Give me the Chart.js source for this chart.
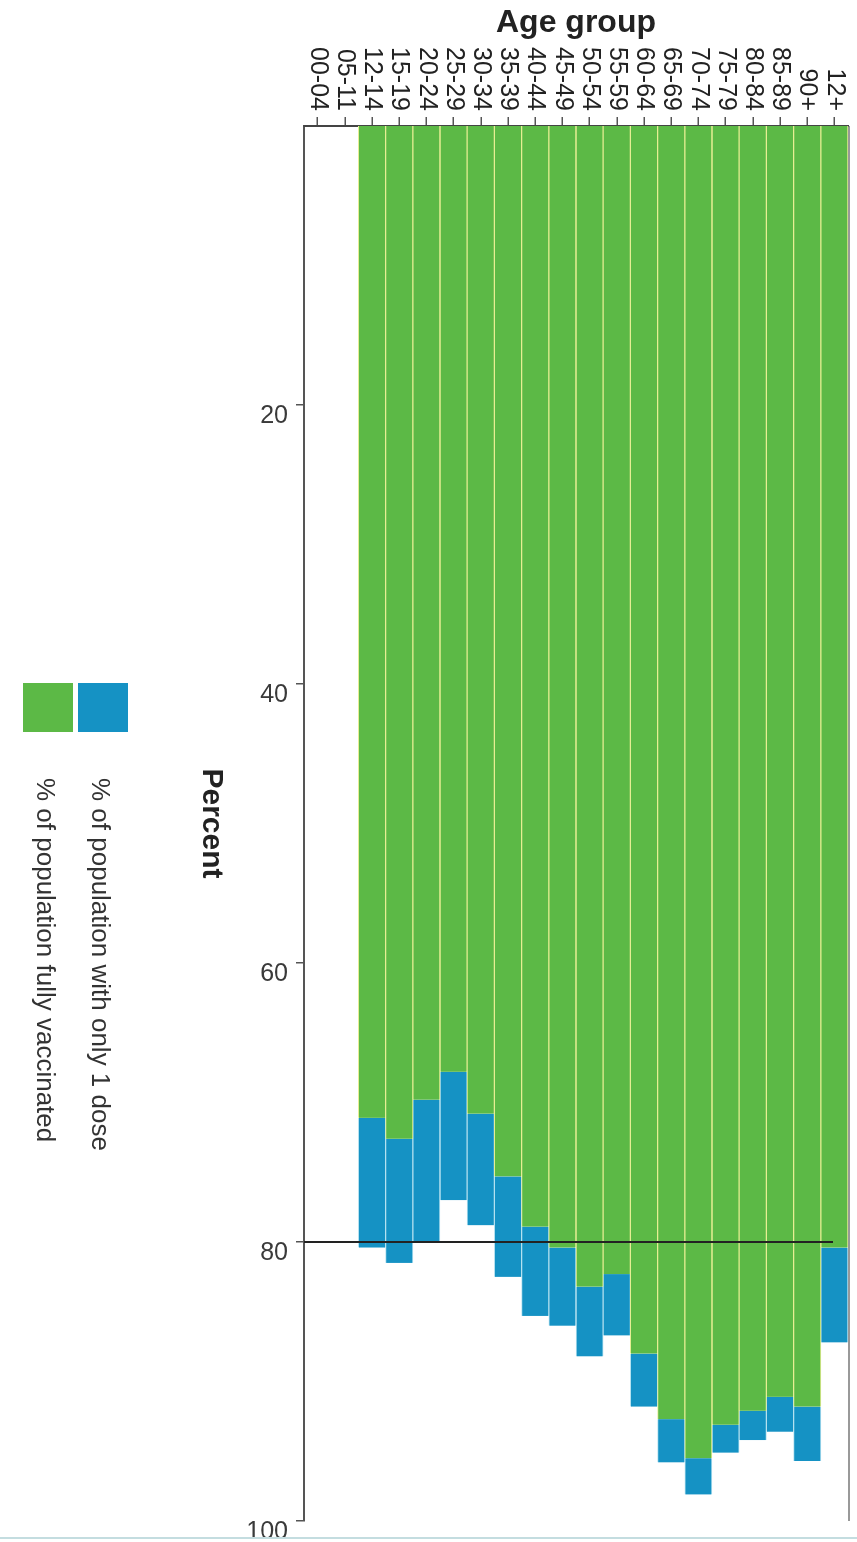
<!DOCTYPE html>
<html>
<head>
<meta charset="utf-8">
<script src="https://cdn.jsdelivr.net/npm/chart.js@4"></script>
<style>
  html, body { margin: 0; padding: 0; background: #fff; }
  body { width: 857px; height: 1542px; position: relative; overflow: hidden; }
  #wrap {
    position: absolute; left: 0; top: 0;
    width: 1542px; height: 857px;
    transform-origin: 0 0;
    transform: translateX(857px) rotate(90deg);
  }
  #edge { position: absolute; left: 0; top: 1537px; width: 857px; height: 2px; background: #c4dde0; }
</style>
</head>
<body>
<div id="wrap"><canvas id="myChart" width="1542" height="857"></canvas></div>
<div id="edge"></div>
<script>
// categories
const AGE_GROUPS = ['00-04', '05-11', '12-14', '15-19', '20-24', '25-29', '30-34', '35-39',
  '40-44', '45-49', '50-54', '55-59', '60-64', '65-69', '70-74', '75-79', '80-84', '85-89', '90+', '12+'];

// % of population fully vaccinated
const FULLY_VACCINATED = [null, null, 71.1, 72.6, 69.8, 67.8, 70.8, 75.3, 78.9, 80.4,
  83.2, 82.3, 88.0, 92.7, 95.5, 93.1, 92.1, 91.1, 91.8, 80.4];

// % of population with only 1 dose (stacked on top)
const ONE_DOSE_ONLY = [null, null, 9.3, 8.9, 10.2, 9.2, 8.0, 7.2, 6.4, 5.6,
  5.0, 4.4, 3.8, 3.1, 2.6, 2.0, 2.1, 2.5, 3.9, 6.8];

const PERCENT_TICKS = [20, 40, 60, 80, 100];
const REF_LINE = 80;

const FONT = '"Liberation Sans", Arial, Helvetica, sans-serif';

// 80% target line + far frame edge
const refLine = {
  id: 'refLine',
  afterDatasetsDraw(chart) {
    const { ctx, chartArea, scales: { x } } = chart;
    const px = x.getPixelForValue(REF_LINE);
    ctx.save();
    ctx.strokeStyle = '#222';
    ctx.lineWidth = 2;
    ctx.beginPath();
    ctx.moveTo(px, chartArea.bottom);
    ctx.lineTo(px, chartArea.top + 15);
    ctx.stroke();

    ctx.strokeStyle = '#777';
    ctx.lineWidth = 1.5;
    ctx.beginPath();
    ctx.moveTo(chartArea.left, chartArea.top - 1);
    ctx.lineTo(chartArea.right, chartArea.top - 1);
    ctx.stroke();
    ctx.restore();
  }
};

// legend stacked in two rows under the axis title
const stackedLegend = {
  id: 'stackedLegend',
  afterDraw(chart) {
    const { ctx, chartArea } = chart;
    ctx.save();
    ctx.font = '26px ' + FONT;
    ctx.textBaseline = 'middle';
    [1, 0].forEach((di, row) => {
      const ds = chart.data.datasets[di];
      const x = chartArea.left + 557;
      const y = chartArea.bottom + 176 + row * 55;
      ctx.fillStyle = ds.backgroundColor;
      ctx.fillRect(x, y, 49, 50);
      ctx.fillStyle = '#333';
      ctx.fillText(ds.label, x + 95, y + 29);
    });
    ctx.restore();
  }
};

new Chart(document.getElementById('myChart').getContext('2d'), {
  type: 'bar',
  data: {
    labels: AGE_GROUPS,
    datasets: [
      {
        label: '% of population fully vaccinated',
        data: FULLY_VACCINATED,
        backgroundColor: '#5cb946',
        borderColor: '#e6ee93',
        borderWidth: { top: 1, bottom: 1, left: 0, right: 0 },
        barPercentage: 1,
        categoryPercentage: 1
      },
      {
        label: '% of population with only 1 dose',
        data: ONE_DOSE_ONLY,
        backgroundColor: '#1592c4',
        borderColor: '#b5e1f0',
        borderWidth: { top: 1, bottom: 1, left: 0, right: 0 },
        barPercentage: 1,
        categoryPercentage: 1
      }
    ]
  },
  options: {
    indexAxis: 'y',
    responsive: false,
    animation: false,
    devicePixelRatio: 1,
    layout: { padding: { top: 9, right: 21, bottom: 189, left: 0 } },
    plugins: {
      legend: { display: false },
      tooltip: { enabled: false }
    },
    scales: {
      x: {
        type: 'linear',
        stacked: true,
        min: 0,
        max: 100,
        afterBuildTicks: (s) => { s.ticks = PERCENT_TICKS.map(v => ({ value: v })); },
        afterFit: (s) => { s.height = 115; s.paddingLeft = 0; s.paddingRight = 0; },
        ticks: {
          minRotation: 90, maxRotation: 90, autoSkip: false,
          padding: 8, labelOffset: 11,
          color: '#3a3a3a',
          font: { family: FONT, size: 25 }
        },
        grid: { drawOnChartArea: false, tickLength: 8, color: '#555', lineWidth: 1.5 },
        border: { display: true, color: '#555', width: 2 },
        title: {
          display: true, text: 'Percent', color: '#222',
          font: { family: FONT, size: 30, weight: 'bold' },
          padding: { top: 4, bottom: 4 }
        }
      },
      y: {
        type: 'category',
        stacked: true,
        reverse: true,
        afterFit: (s) => { s.width = 126; s.paddingTop = 0; s.paddingBottom = 0; },
        ticks: {
          autoSkip: false, padding: 6, color: '#222',
          font: { family: FONT, size: 25 }
        },
        grid: { drawOnChartArea: false, offset: false, tickLength: 9, color: '#555', lineWidth: 1.5 },
        border: { display: true, color: '#444', width: 2 },
        title: {
          display: true, text: 'Age group', color: '#222',
          font: { family: FONT, size: 32, weight: 'bold' },
          padding: { top: 4, bottom: 4 }
        }
      }
    }
  },
  plugins: [refLine, stackedLegend]
});
</script>
</body>
</html>
